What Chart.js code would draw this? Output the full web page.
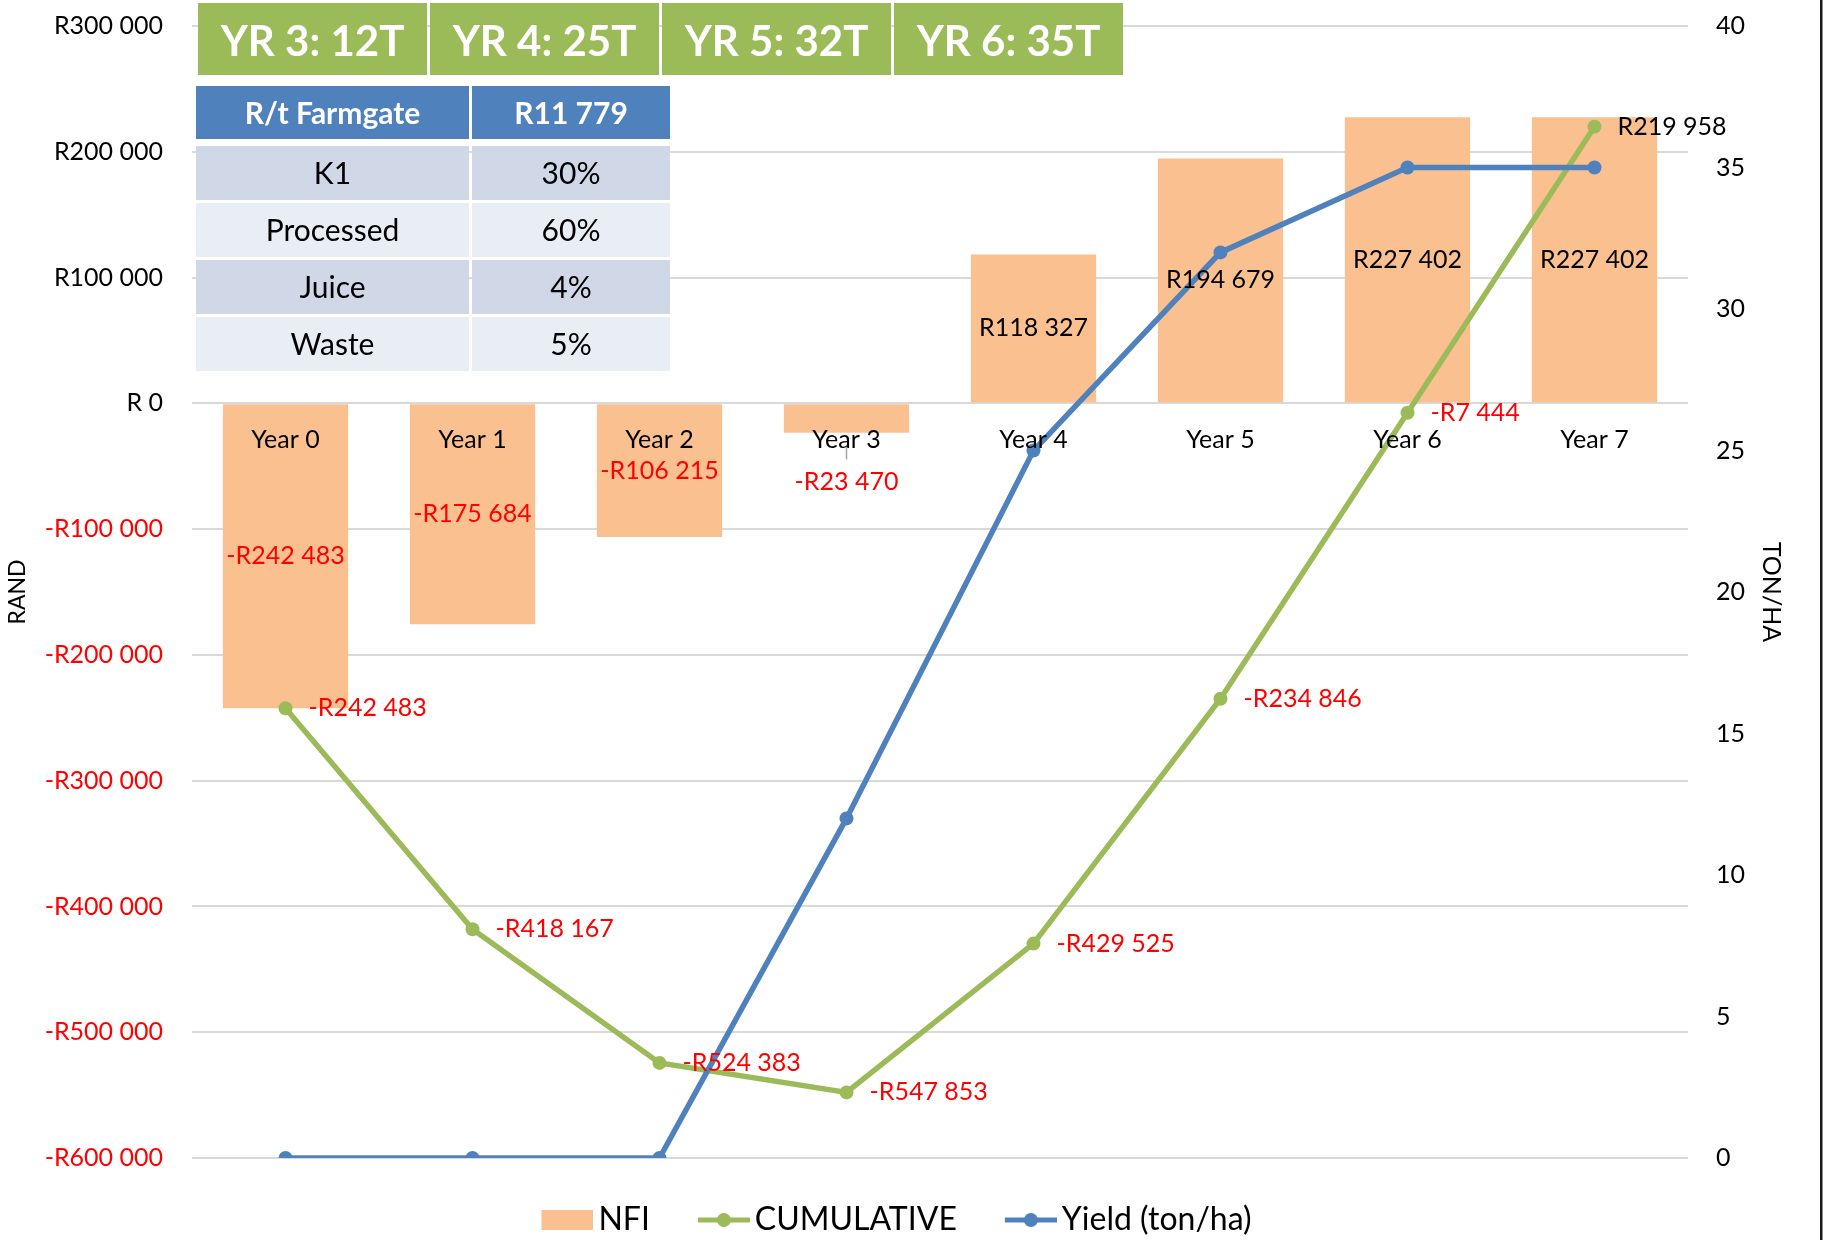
<!DOCTYPE html>
<html>
<head>
<meta charset="utf-8">
<script src="https://cdn.jsdelivr.net/npm/chart.js@4/dist/chart.umd.min.js"></script>
<style>
html,body{margin:0;padding:0;background:#fff;overflow:hidden}
#wrap{width:1825px;height:1240px;position:relative}
</style>
</head>
<body>
<div id="wrap"><canvas id="c" width="1825" height="1240"></canvas></div>
<script>
// ---------- DATA ----------
const categories = ['Year 0', 'Year 1', 'Year 2', 'Year 3', 'Year 4', 'Year 5', 'Year 6', 'Year 7'];
const nfiValues = [-242483, -175684, -106215, -23470, 118327, 194679, 227402, 227402];
const cumulativeValues = [-242483, -418167, -524383, -547853, -429525, -234846, -7444, 219958];
const yieldValues = [0, 0, 0, 12, 25, 32, 35, 35];

const randTickValues = [-600000, -500000, -400000, -300000, -200000, -100000, 0, 100000, 200000, 300000];
const randTickLabels = ['-R600 000', '-R500 000', '-R400 000', '-R300 000', '-R200 000', '-R100 000', 'R 0', 'R100 000', 'R200 000', 'R300 000'];
const yieldTickValues = [0, 5, 10, 15, 20, 25, 30, 35, 40];
const yieldTickLabels = ['0', '5', '10', '15', '20', '25', '30', '35', '40'];

const headerBoxes = ['YR 3: 12T', 'YR 4: 25T', 'YR 5: 32T', 'YR 6: 35T'];
const tableHeader = ['R/t Farmgate', 'R11 779'];
const tableRows = [['K1', '30%'], ['Processed', '60%'], ['Juice', '4%'], ['Waste', '5%']];

// ---------- STYLE ----------
const FONT = 'Lato';
const RED = '#FF0000';
const BLACK = '#000000';
const ORANGE = '#FAC090';
const GREEN = '#9BBB59';
const BLUE = '#4F81BD';

function fmtRand(v) {
  const s = Math.abs(v).toString().replace(/\B(?=(\d{3})+(?!\d))/g, ' ');
  return (v < 0 ? '-' : '') + 'R' + s;
}

// legend swatches (canvas point styles)
function makeSwatch(kind, color) {
  const c = document.createElement('canvas');
  c.width = 71; c.height = 24;
  const g = c.getContext('2d');
  const x0 = 19, x1 = 71;
  if (kind === 'rect') {
    g.fillStyle = color;
    g.fillRect(x0, 2, x1 - x0, 20);
  } else {
    g.strokeStyle = color;
    g.lineWidth = 5;
    g.beginPath(); g.moveTo(x0, 12); g.lineTo(x1, 12); g.stroke();
    g.fillStyle = color;
    g.beginPath(); g.arc((x0 + x1) / 2, 12, 7, 0, Math.PI * 2); g.fill();
  }
  return c;
}
const swatches = [makeSwatch('rect', ORANGE), makeSwatch('line', GREEN), makeSwatch('line', BLUE)];

// ---------- PLUGINS ----------
const dataLabelPlugin = {
  id: 'dataLabels',
  afterDatasetsDraw(chart) {
    const ctx = chart.ctx;
    ctx.save();
    ctx.font = '25px ' + FONT;
    ctx.textBaseline = 'middle';
    // NFI bar labels
    const barMeta = chart.getDatasetMeta(0);
    barMeta.data.forEach((el, i) => {
      const v = nfiValues[i];
      const h = el.base - el.y;
      let y = (el.base + el.y) / 2;
      if (Math.abs(h) < 40) {
        y = el.base + (v < 0 ? 78 : -78);
        ctx.strokeStyle = '#A6A6A6';
        ctx.lineWidth = 1.5;
        ctx.beginPath();
        ctx.moveTo(el.x, y - 36);
        ctx.lineTo(el.x, y - 23);
        ctx.stroke();
      }
      ctx.fillStyle = v < 0 ? RED : BLACK;
      ctx.textAlign = 'center';
      ctx.fillText(fmtRand(v), el.x, y);
    });
    // cumulative labels
    const cumMeta = chart.getDatasetMeta(1);
    cumMeta.data.forEach((el, i) => {
      const v = cumulativeValues[i];
      ctx.fillStyle = v < 0 ? RED : BLACK;
      ctx.textAlign = 'left';
      ctx.fillText(fmtRand(v), el.x + 23, el.y);
    });
    ctx.restore();
  }
};

const legendShiftPlugin = {
  id: 'legendShift',
  afterLayout(chart) {
    const l = chart.legend;
    if (!l) return;
    l.left -= 20; l.right -= 20;
    l.top += 6; l.bottom += 6;
  }
};

const overlayPlugin = {
  id: 'overlay',
  afterDraw(chart) {
    const ctx = chart.ctx;
    ctx.save();
    // green header boxes
    headerBoxes.forEach((t, i) => {
      const x = 198 + i * 232;
      ctx.fillStyle = GREEN;
      ctx.fillRect(x, 3, 229, 72);
      ctx.fillStyle = '#FFFFFF';
      ctx.font = 'bold 42px ' + FONT;
      ctx.textAlign = 'center';
      ctx.textBaseline = 'middle';
      ctx.fillText(t, x + 229 / 2, 42);
    });
    // table
    const colX = [196, 472];
    const colW = [273, 198];
    ctx.fillStyle = BLUE;
    ctx.fillRect(colX[0], 86, colW[0], 53);
    ctx.fillRect(colX[1], 86, colW[1], 53);
    ctx.fillStyle = '#FFFFFF';
    ctx.font = 'bold 30px ' + FONT;
    ctx.textAlign = 'center';
    ctx.textBaseline = 'middle';
    tableHeader.forEach((t, j) => ctx.fillText(t, colX[j] + colW[j] / 2, 114));
    tableRows.forEach((row, r) => {
      const y = 146 + r * 57;
      ctx.fillStyle = r % 2 === 0 ? '#D0D8E8' : '#E9EDF4';
      ctx.fillRect(colX[0], y, colW[0], 54);
      ctx.fillRect(colX[1], y, colW[1], 54);
      ctx.fillStyle = BLACK;
      ctx.font = '30px ' + FONT;
      row.forEach((t, j) => ctx.fillText(t, colX[j] + colW[j] / 2, y + 28));
    });
    // right border
    ctx.fillStyle = '#1A1A1A';
    ctx.fillRect(1820, 0, 2.5, 1240);
    ctx.restore();
  }
};

function noVerticalPadding(s) { s.paddingTop = 0; s.paddingBottom = 0; }

// ---------- CHART ----------
const ctx = document.getElementById('c').getContext('2d');
new Chart(ctx, {
  type: 'bar',
  data: {
    labels: categories,
    datasets: [
      {
        type: 'bar', label: 'NFI', data: nfiValues, yAxisID: 'y',
        backgroundColor: ORANGE, borderWidth: 0, order: 3,
        barPercentage: 0.67, categoryPercentage: 1
      },
      {
        type: 'line', label: 'CUMULATIVE', data: cumulativeValues, yAxisID: 'y',
        borderColor: GREEN, backgroundColor: GREEN, borderWidth: 5.5, tension: 0,
        pointRadius: 7, pointBorderWidth: 0, pointBackgroundColor: GREEN, order: 2
      },
      {
        type: 'line', label: 'Yield (ton/ha)', data: yieldValues, yAxisID: 'y2',
        borderColor: BLUE, backgroundColor: BLUE, borderWidth: 5.5, tension: 0,
        pointRadius: 7, pointBorderWidth: 0, pointBackgroundColor: BLUE, order: 1
      }
    ]
  },
  options: {
    responsive: false,
    animation: false,
    devicePixelRatio: 1,
    layout: { padding: { top: 26, bottom: 0, left: 0, right: 0 } },
    plugins: {
      tooltip: { enabled: false },
      legend: {
        position: 'bottom',
        labels: {
          usePointStyle: true,
          pointStyleWidth: 49,
          padding: 40,
          color: BLACK,
          font: { family: FONT, size: 32 },
          sort: (a, b) => a.datasetIndex - b.datasetIndex,
          generateLabels: (chart) => {
            const items = Chart.defaults.plugins.legend.labels.generateLabels(chart);
            items.forEach(it => { it.pointStyle = swatches[it.datasetIndex]; });
            return items;
          }
        }
      }
    },
    scales: {
      x: {
        position: { y: 0 },
        grid: { display: false, drawTicks: false },
        border: { display: false },
        ticks: {
          padding: 22, color: BLACK, z: 1, maxRotation: 0, autoSkip: false,
          font: { family: FONT, size: 25 }
        }
      },
      y: {
        position: 'left',
        min: -600000, max: 300000,
        afterBuildTicks: (s) => { s.ticks = randTickValues.map(v => ({ value: v })); },
        afterFit: (s) => { s.width = 192; noVerticalPadding(s); },
        grid: { color: '#D9D9D9', lineWidth: 2, drawTicks: false },
        border: { display: false },
        ticks: {
          padding: 29,
          font: { family: FONT, size: 25 },
          color: (c) => (c.tick && c.tick.value < 0 ? RED : BLACK),
          callback: (v) => randTickLabels[randTickValues.indexOf(v)]
        },
        title: {
          display: true, text: 'RAND', color: BLACK,
          font: { family: FONT, size: 23 },
          padding: { top: 4, bottom: 0 }
        }
      },
      y2: {
        position: 'right',
        min: 0, max: 40,
        afterBuildTicks: (s) => { s.ticks = yieldTickValues.map(v => ({ value: v })); },
        afterFit: (s) => { s.width = 137; noVerticalPadding(s); },
        grid: { display: false, drawTicks: false },
        border: { display: false },
        ticks: {
          padding: 28, color: BLACK,
          font: { family: FONT, size: 25 },
          callback: (v) => yieldTickLabels[yieldTickValues.indexOf(v)]
        },
        title: {
          display: true, text: 'TON/HA', color: BLACK,
          font: { family: FONT, size: 25 },
          padding: { top: 39, bottom: 0 }
        }
      }
    }
  },
  plugins: [dataLabelPlugin, legendShiftPlugin, overlayPlugin]
});
</script>
</body>
</html>
